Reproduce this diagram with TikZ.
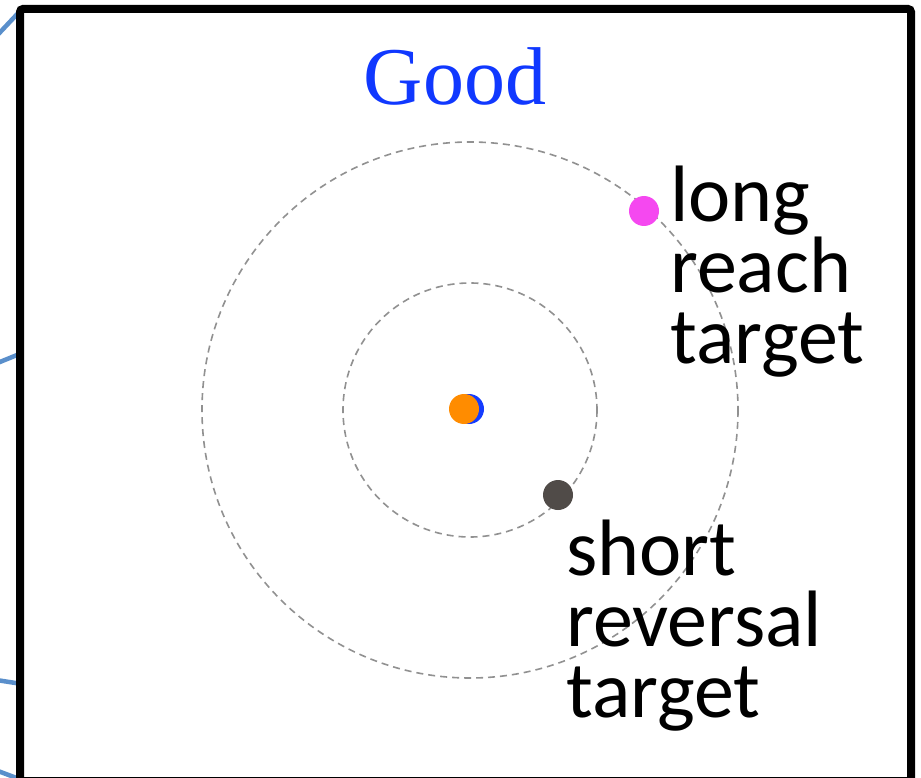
\documentclass[tikz,border=0pt]{standalone}
\usepackage{fontspec}
\setmainfont{Liberation Serif}
\newfontfamily\calibri{Carlito}
\usepackage{tikz}
\usetikzlibrary{positioning}
\definecolor{goodblue}{RGB}{16,56,255}
\definecolor{linkblue}{RGB}{90,143,203}
\definecolor{ringgray}{RGB}{145,145,145}
\definecolor{startorange}{RGB}{255,140,0}
\definecolor{startblue}{RGB}{20,60,255}
\definecolor{shortgray}{RGB}{80,75,72}
\definecolor{longpink}{RGB}{245,72,240}

\begin{document}
\begin{tikzpicture}[
  x=1pt, y=-1pt,
  ring/.style={draw=ringgray, line width=1.6pt, dash pattern=on 7pt off 5pt},
  dot/.style={circle, inner sep=0pt, minimum size=30pt},
  label/.style={anchor=base west, inner sep=0pt, align=left, font=\calibri\fontsize{80}{71}\selectfont},
  link/.style={draw=linkblue, line width=4.5pt}
]
  \useasboundingbox (0,0) rectangle (921,778);
  \clip (0,0) rectangle (921,778);

  % Incoming links on the left
  \coordinate (l1a) at (-10,43); \coordinate (l1b) at (22,9);
  \coordinate (l2a) at (-10,366); \coordinate (l2b) at (22,353);
  \coordinate (l3a) at (-10,679); \coordinate (l3b) at (22,684);
  \coordinate (l4a) at (-10,768); \coordinate (l4b) at (22,780);
  \draw[link] (l1a) -- (l1b);
  \draw[link] (l2a) -- (l2b);
  \draw[link] (l3a) -- (l3b);
  \draw[link] (l4a) -- (l4b);

  % Frame
  \draw[line width=8pt, rounded corners=3pt, fill=white] (20,9) rectangle (911,781);

  % Title
  \node[inner sep=0pt, anchor=base, text=goodblue, font=\fontsize{82}{82}\selectfont] (title) at (455,105) {Good};

  % Target rings
  \coordinate (centre) at (470,410);
  \draw[ring] (centre) circle (127);
  \draw[ring] (centre) circle (268);

  % Start and targets
  \node[dot, fill=startblue] (startb) at (469,409) {};
  \node[dot, fill=startorange] (start) at (464,409) {};
  \node[dot, fill=shortgray] (short) at (558,495) {};
  \node[dot, fill=longpink] (long) at (644,211) {};

  % Labels (base = last line)
  \node[label] (longlbl) at (670,363) {long\\reach\\target};
  \node[label] (shortlbl) at (566,717) {short\\reversal\\target};
\end{tikzpicture}
\end{document}
